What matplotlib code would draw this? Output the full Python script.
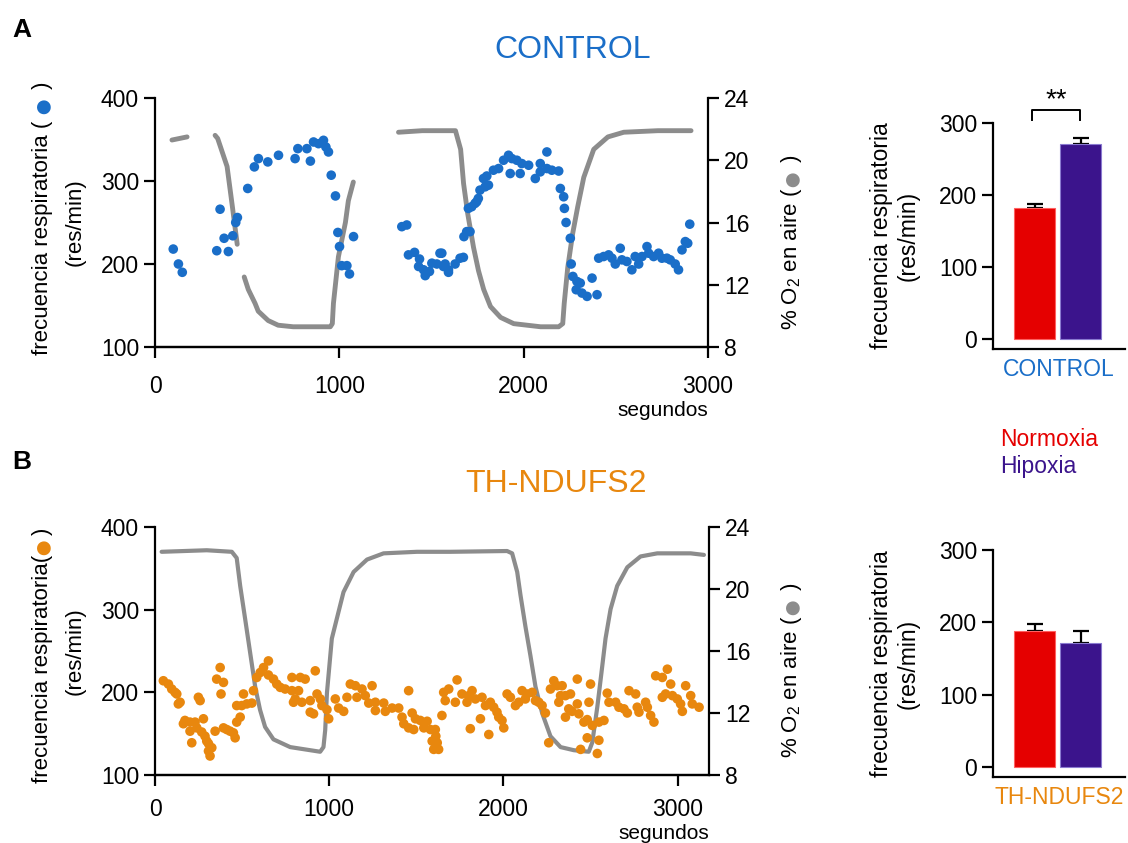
import numpy as np
import matplotlib
matplotlib.use("Agg")
import matplotlib.pyplot as plt

plt.rcParams['font.family'] = ['Liberation Sans', 'DejaVu Sans']
plt.rcParams['mathtext.default'] = 'regular'

BLUE = '#1a6ec8'
ORANGE = '#e8870e'
GRAY = '#8c8c8c'
RED = '#e50000'
PURPLE = '#3b148c'

# ---- panel A (CONTROL) time course ----
o2_a_t = [92, 174, np.nan,
          326, 340, 391, 420, 446, np.nan,
          484, 506, 543, 560, 614, 668, 750, 951, 962, 968, 995, 1033, 1049, 1076, np.nan,
          1321, 1450, 1549, 1630, 1658, 1674, 1696, 1712, 1728, 1755, 1783, 1820, 1875,
          1946, 2092, 2190, 2212, 2220, 2239, 2266, 2293, 2326, 2380, 2457, 2543, 2728, 2908]
o2_a = [21.3, 21.5, np.nan,
        21.6, 21.4, 19.6, 17.0, 14.6, np.nan,
        12.5, 11.7, 10.8, 10.3, 9.7, 9.4, 9.3, 9.3, 9.5, 10.8, 13.8, 16.0, 17.4, 18.6, np.nan,
        21.8, 21.9, 21.9, 21.9, 20.7, 18.5, 16.6, 15.5, 14.4, 12.9, 11.7, 10.6, 9.9,
        9.5, 9.3, 9.3, 9.5, 10.8, 13.1, 15.3, 17.0, 18.9, 20.7, 21.5, 21.8, 21.9, 21.9]

fr_a_t = [99, 127, 148, 335, 353, 375, 398, 422, 438, 447, 503, 539, 561, 612, 670,
          760, 775, 824, 843, 860, 887, 914, 927, 941, 956, 979, 992, 1001, 1013, 1041,
          1055, 1077,
          1339, 1366, 1375, 1408, 1435, 1430, 1457, 1466, 1489, 1502, 1529, 1556, 1565, 1592,
          1546, 1574, 1592, 1628, 1655, 1673, 1676, 1691, 1709, 1700, 1718, 1736, 1745, 1754,
          1763, 1791, 1809, 1782, 1800, 1836, 1864, 1891, 1918, 1936, 1963, 1990, 2027, 1927,
          1981, 2063, 2090, 2090, 2126, 2126, 2153, 2190, 2199, 2217, 2221, 2230, 2253, 2258,
          2267, 2289, 2307, 2285, 2316, 2344, 2371, 2398, 2407, 2434, 2461, 2479, 2497, 2524,
          2533, 2560, 2587, 2605, 2624, 2642, 2669, 2678, 2705, 2732, 2750, 2777, 2795, 2822,
          2840, 2859, 2877, 2890, 2901]
fr_a = [218, 200, 190, 216, 266, 231, 215, 234, 250, 256, 291, 317, 327, 323, 331,
        327, 339, 339, 324, 347, 345, 349, 341, 335, 307, 282, 238, 221, 198, 198,
        188, 233,
        245, 247, 211, 214, 206, 197, 193, 186, 191, 201, 200, 213, 197, 193,
        213, 200, 190, 200, 207, 208, 233, 239, 239, 267, 269, 273, 275, 279,
        289, 293, 295, 303, 306, 313, 315, 325, 331, 327, 325, 321, 319, 309,
        309, 303, 311, 321, 335, 315, 313, 312, 291, 281, 267, 250, 231, 200,
        185, 179, 177, 169, 165, 161, 183, 163, 207, 209, 211, 207, 200, 219,
        205, 203, 193, 209, 200, 209, 221, 213, 209, 213, 207, 207, 205, 200,
        193, 217, 227, 225, 248]

# ---- panel B (TH-NDUFS2) time course ----
o2_b_t = [38, 297, 441, 469, 489, 517, 546, 575, 603, 632, 680, 776, 948, 967, 977, 987,
          1015, 1044, 1082, 1140, 1217, 1312, 1504, 1695, 2021, 2050, 2079, 2098, 2126,
          2155, 2184, 2222, 2270, 2328, 2404, 2490, 2510, 2539, 2567, 2586, 2615, 2653,
          2711, 2787, 2883, 3075, 3151]
o2_b = [22.4, 22.5, 22.4, 22.0, 20.2, 18.1, 15.9, 13.7, 12.2, 11.1, 10.3, 9.8, 9.5, 9.8,
        10.9, 13.3, 16.8, 18.1, 19.8, 21.1, 21.9, 22.3, 22.4, 22.4, 22.45, 22.3, 21.1,
        19.6, 17.6, 15.7, 13.7, 12.0, 10.5, 9.8, 9.6, 9.5, 10.1, 12.4, 15.0, 16.8, 18.7,
        20.2, 21.4, 22.1, 22.3, 22.3, 22.2]

fr_b_t = [48, 77, 96, 115, 125, 134, 144, 249, 259, 374, 354, 393, 379, 172, 163, 201, 230,
          278, 201, 240, 268, 211, 287, 297, 307, 326, 307, 316, 345, 393, 412, 431, 450,
          460, 469, 489, 469, 498, 527, 556, 508, 565, 584, 604, 623, 651, 651, 680, 699,
          719, 747, 786, 786, 795,
          834, 862, 920, 824, 805, 843, 891, 930, 949, 891, 910, 958, 987, 997, 1035, 1054,
          1083, 1102, 1121, 1150, 1188, 1246, 1159, 1207, 1227, 1265, 1265, 1313, 1322, 1361,
          1399, 1418, 1456, 1476, 1495, 1523, 1428, 1456, 1485, 1543, 1562, 1581, 1591, 1600,
          1609, 1612, 1620, 1628, 1657, 1686, 1734, 1666, 1724, 1762, 1801, 1820, 1791, 1839,
          1877, 1897, 1925, 1944, 1963, 1973, 1992, 2002, 1647, 1868, 1810, 1916, 2021, 2040,
          2069, 2088, 2107, 2136, 2165, 2126, 2184, 2203, 2222, 2241, 2260, 2270, 2289, 2308,
          2337, 2328, 2356, 2385, 2318, 2375, 2394, 2356,
          2424, 2500, 2424, 2491, 2433, 2462, 2481, 2510, 2548, 2577, 2481, 2548, 2443, 2539,
          2596, 2606, 2644, 2663, 2692, 2711, 2721, 2759, 2768, 2778, 2816, 2826, 2845, 2864,
          2874, 2912, 2941, 2960, 2931, 2912, 2970, 2998, 3017, 3027, 3046, 3075, 3084, 3123]
fr_b = [214, 210, 204, 200, 198, 186, 188, 194, 190, 230, 216, 212, 198, 166, 162, 164, 164,
        168, 153, 157, 152, 139, 147, 141, 138, 133, 129, 123, 153, 157, 155, 153, 151,
        145, 164, 170, 184, 184, 186, 187, 198, 202, 218, 224, 230, 238, 221, 216, 210,
        206, 204, 218, 202, 188,
        218, 216, 226, 202, 192, 188, 190, 198, 192, 176, 174, 184, 179, 168, 192, 181,
        177, 194, 210, 208, 204, 208, 194, 196, 187, 188, 178, 187, 177, 181,
        181, 170, 202, 175, 168, 166, 162, 157, 155, 157, 165, 155, 141, 131,
        155, 147, 139, 131, 200, 204, 215, 190, 188, 198, 196, 202, 188, 192,
        194, 184, 188, 182, 176, 170, 166, 157, 172, 168, 156, 149, 198, 194,
        184, 188, 202, 198, 200, 192, 190, 188, 184, 175, 139, 204, 214, 208,
        208, 196, 196, 198, 188, 180, 177, 170,
        216, 210, 186, 188, 174, 164, 167, 160, 164, 166, 145, 142, 131, 126,
        199, 188, 188, 182, 180, 175, 202, 198, 182, 176, 188, 182, 172, 164,
        220, 218, 228, 210, 198, 194, 196, 192, 186, 177, 208, 196, 186, 182]

# ---- bar charts ----
groups = ['Normoxia', 'Hipoxia']
bar_ctrl = [182, 271]
err_ctrl = [6, 8]
bar_th = [188, 171]
err_th = [9, 17]

W, H = 1128, 843
fig = plt.figure(figsize=(W / 100, H / 100), dpi=100)


def fr(x0, y0, x1, y1):
    # pixel box (top-left origin) -> figure fraction rect
    return [x0 / W, 1 - y1 / H, (x1 - x0) / W, (y1 - y0) / H]


def style_axis(ax):
    ax.tick_params(axis='both', direction='out', length=8, width=1.6, labelsize=16.5)
    for s in ax.spines.values():
        s.set_linewidth(1.6)


def dot_label(ax, x, y, pre, color, post, fs):
    # rotated label with a coloured dot standing in for the marker
    t1 = fig.text(x, y, pre, rotation=90, rotation_mode='anchor',
                  ha='left', va='baseline', fontsize=fs)
    t2 = ax.annotate('\u25cf', xy=(0.5, 1.0), xycoords=t1,
                     rotation=90, rotation_mode='anchor', ha='left', va='center',
                     fontsize=fs * 1.45, color=color, annotation_clip=False)
    ax.annotate(post, xy=(x, 1.0), xycoords=('figure fraction', t2),
                rotation=90, rotation_mode='anchor', ha='left', va='baseline',
                fontsize=fs, annotation_clip=False)


def time_panel(rect, o2_t, o2, t, f, color, xmax, lw, xpad, title, tx, ty, sep):
    ax = fig.add_axes(fr(*rect))
    ax2 = ax.twinx()
    ax2.plot(o2_t, o2, color=GRAY, lw=lw, solid_capstyle='round', zorder=1)
    ax.scatter(t, f, s=48, color=color, edgecolors='none', zorder=3)
    ax.set_zorder(ax2.get_zorder() + 1)
    ax.patch.set_visible(False)
    ax.set_xlim(0, xmax)
    ax.set_ylim(100, 400)
    ax.set_yticks([100, 200, 300, 400])
    ax.set_xticks([0, 1000, 2000, 3000])
    ax2.set_ylim(8, 24)
    ax2.set_yticks([8, 12, 16, 20, 24])
    for a in (ax, ax2):
        style_axis(a)
        a.spines['top'].set_visible(False)
    ax.tick_params(axis='x', pad=xpad)
    ax.spines['right'].set_visible(False)
    ax2.spines['left'].set_visible(False)
    ax.set_xlabel('segundos', fontsize=15, loc='right', labelpad=2)
    fig.text(tx / W, 1 - ty / H, title, color=color, fontsize=23,
             ha='center', va='center')
    top, bot = rect[1], rect[3]
    dot_label(ax, 48 / W, 1 - (bot + 8) / H, 'frecuencia respiratoria' + sep + '(' + sep,
              color, sep + ')', 16)
    fig.text(75 / W, 1 - (top + bot) / 2 / H, '(res/min)', rotation=90,
             ha='center', va='center', fontsize=16)
    dot_label(ax, 797 / W, 1 - (bot - 17) / H, '% O$_2$ en aire ( ', GRAY, ' )', 16)
    return ax


def bar_panel(rect, vals, errs, label, lcolor):
    ax = fig.add_axes(fr(*rect))
    x = [0.315, 0.665]
    ax.bar(x, vals, width=0.31, color=[RED, PURPLE], edgecolor=['#ff6060', '#8a7ad0'],
           linewidth=0.8, zorder=2)
    for xi, v, e in zip(x, vals, errs):
        ax.errorbar([xi], [v], yerr=[[0], [e]], color='black', capsize=6,
                    elinewidth=1.6, capthick=1.6, zorder=1)
    ax.set_xlim(0, 1)
    ax.set_ylim(-14, 300)
    ax.set_yticks([0, 100, 200, 300])
    ax.set_xticks([])
    style_axis(ax)
    ax.spines['top'].set_visible(False)
    ax.spines['right'].set_visible(False)
    ax.set_ylabel('frecuencia respiratoria\n(res/min)', fontsize=16.5, labelpad=14)
    ax.text(0.5, -0.09, label, transform=ax.transAxes, color=lcolor, fontsize=16.5,
            ha='center', va='center')
    return ax


time_panel((155, 98, 708, 347), o2_a_t, o2_a, fr_a_t, fr_a, BLUE, 3000, 3.5, 12,
           'CONTROL', 573, 50, ' ')
time_panel((155, 527, 709, 775), o2_b_t, o2_b, fr_b_t, fr_b, ORANGE, 3180, 3.0, 8.5,
           'TH-NDUFS2', 556, 484, '')

axa = bar_panel((993, 123, 1125, 349), bar_ctrl, err_ctrl, 'CONTROL', BLUE)
bar_panel((993, 550, 1125, 777), bar_th, err_th, 'TH-NDUFS2', ORANGE)

# significance bracket
axa.plot([0.295, 0.295, 0.66, 0.66], [304, 318, 318, 304], color='black', lw=1.4,
         clip_on=False)
axa.text(0.4775, 313, '**', ha='center', va='bottom', fontsize=20, clip_on=False)

fig.text(1000 / W, 1 - 440 / H, groups[0], color=RED, fontsize=16.5, ha='left', va='center')
fig.text(1000 / W, 1 - 467 / H, groups[1], color=PURPLE, fontsize=16.5, ha='left', va='center')

fig.text(12 / W, 1 - 30 / H, 'A', fontsize=19, fontweight='bold', va='center')
fig.text(12 / W, 1 - 462 / H, 'B', fontsize=19, fontweight='bold', va='center')

fig.savefig('out.png', dpi=100)
